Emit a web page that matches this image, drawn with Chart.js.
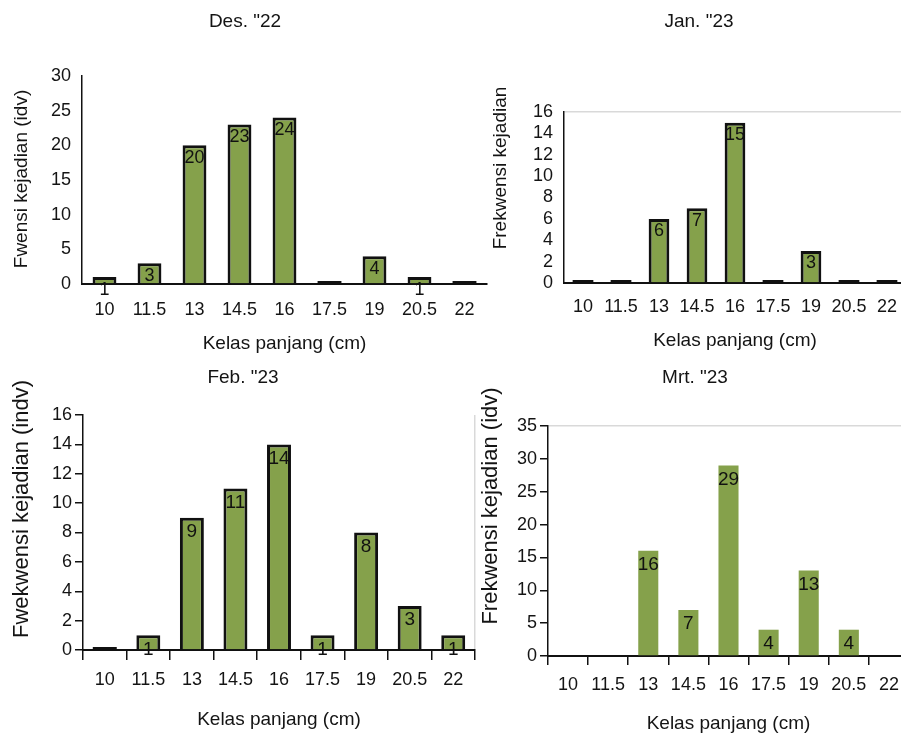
<!DOCTYPE html>
<html>
<head>
<meta charset="utf-8">
<script src="https://cdn.jsdelivr.net/npm/chart.js@4.4.1/dist/chart.umd.min.js"></script>
<style>
html,body{margin:0;padding:0;background:#fff;overflow:hidden;width:901px;height:736px}
canvas{position:absolute}
</style>
</head>
<body>
<canvas id="c1" width="490" height="360" style="left:0;top:0"></canvas>
<canvas id="c2" width="460" height="360" style="left:450px;top:0"></canvas>
<canvas id="c3" width="478" height="376" style="left:0;top:360px"></canvas>
<canvas id="c4" width="459" height="376" style="left:450px;top:360px"></canvas>
<script>
// length classes (cm)
const classes=["10","11.5","13","14.5","16","17.5","19","20.5","22"]

// frequency per month
const desValues=[1,3,20,23,24,0,4,1,0]
const janValues=[0,0,6,7,15,0,3,0,0]
const febValues=[0,1,9,11,14,1,8,3,1]
const mrtValues=[0,0,16,7,29,4,13,4,0]

const monthTitles=['Des. "22','Jan. "23','Feb. "23','Mrt. "23']
const yTitles=["Fwensi kejadian (idv)","Frekwensi kejadian","Fwekwensi kejadian (indv)","Frekwensi kejadian (idv)"]
const xTitle="Kelas panjang (cm)"
const yMax=[30,16,16,35]
const yStep=[5,2,2,5]

const GREEN="#85a14b"
const INK="#141414"
const SANS="'Liberation Sans', Arial, sans-serif"

const panelText={
  id:"panelText",
  afterDraw(chart,args,opts){
    const ctx=chart.ctx
    ctx.save()
    ctx.fillStyle=INK
    ctx.textAlign="center"
    ctx.textBaseline="middle"
    const t=opts.title
    ctx.font=t.font
    ctx.fillText(t.text,t.x,t.y)
    const y=opts.ytitle
    ctx.translate(y.x,y.y)
    ctx.rotate(-Math.PI/2)
    ctx.font=y.font
    ctx.fillText(y.text,0,0)
    ctx.restore()
  }
}

const barLabels={
  id:"barLabels",
  afterDatasetsDraw(chart,args,opts){
    const ctx=chart.ctx
    const data=chart.data.datasets[0].data
    ctx.save()
    ctx.font=opts.font
    ctx.fillStyle="#111"
    ctx.textAlign="center"
    ctx.textBaseline="middle"
    chart.getDatasetMeta(0).data.forEach((bar,i)=>{
      if(!data[i]) return
      ctx.fillText(String(data[i]),bar.x,bar.y+opts.offset)
    })
    ctx.restore()
  }
}

function makePanel(id,values,k,p){
  const max=yMax[k]
  new Chart(document.getElementById(id),{
    type:"bar",
    data:{
      labels:classes,
      datasets:[{
        data:values,
        backgroundColor:c=>(p.bar.border && c.raw===0)?"#111":GREEN,
        borderColor:"#111",
        borderWidth:c=>c.raw===0?0:p.bar.border,
        borderSkipped:"start",
        minBarLength:p.bar.border?3:0,
        barPercentage:p.bar.pct,
        categoryPercentage:1
      }]
    },
    options:{
      responsive:false,
      animation:false,
      layout:{padding:{top:p.top,right:p.right,bottom:0,left:0}},
      plugins:{
        legend:{display:false},
        tooltip:{enabled:false},
        panelText:{
          title:{text:monthTitles[k],x:p.title[0],y:p.title[1],font:"19px "+SANS},
          ytitle:{text:yTitles[k],x:p.ytitle[0],y:p.ytitle[1],font:p.ytitle[2]+"px "+SANS}
        },
        barLabels:{font:p.label.font,offset:p.label.offset}
      },
      scales:{
        x:{
          offset:true,
          grid:{
            display:p.xticks>0 || p.rightLine,
            drawOnChartArea:!!p.rightLine,
            drawTicks:p.xticks>0,
            tickLength:p.xticks,
            offset:true,
            color:c=>(p.rightLine && !c.tick)?"#d9d9d9":"rgba(0,0,0,0)",
            tickColor:"#111",
            lineWidth:1.5,
            tickWidth:1.5
          },
          border:{color:"#111",width:2},
          ticks:{font:{family:SANS,size:18},color:INK,padding:p.xpad,maxRotation:0,autoSkip:false},
          title:{display:true,text:xTitle,color:INK,font:{family:SANS,size:19},padding:{top:0,bottom:p.xtitlePad}},
          afterFit(s){s.height=p.xh}
        },
        y:{
          min:0,
          max:max,
          grid:{
            display:p.yticks>0 || p.topLine,
            drawOnChartArea:!!p.topLine,
            drawTicks:p.yticks>0,
            tickLength:p.yticks,
            color:c=>(p.topLine && c.tick && c.tick.value===max)?"#d9d9d9":"rgba(0,0,0,0)",
            tickColor:"#111",
            lineWidth:1.5,
            tickWidth:1.5
          },
          border:{color:"#111",width:1.5},
          ticks:{stepSize:yStep[k],autoSkip:false,font:{family:SANS,size:18},color:INK,padding:p.ypad},
          afterFit(s){s.width=p.yw}
        }
      }
    },
    plugins:[panelText,barLabels]
  })
}

makePanel("c1",desValues,0,{
  top:76,right:3,yw:82,xh:76,xticks:0,yticks:0,xpad:15,ypad:11,xtitlePad:4.6,
  bar:{pct:0.53,border:3},
  label:{font:"18px "+SANS,offset:12.5},
  title:[245,22],ytitle:[21.5,179,19]
})
makePanel("c2",janValues,1,{
  top:112,right:0,yw:114,xh:77,xticks:0,yticks:0,xpad:13,ypad:11,xtitlePad:7.6,topLine:true,
  bar:{pct:0.545,border:3},
  label:{font:"18px "+SANS,offset:12.5},
  title:[249,22],ytitle:[51,168,19]
})
makePanel("c3",febValues,2,{
  top:55,right:3,yw:83,xh:86,xticks:10,yticks:8,xpad:9.7,ypad:3,xtitlePad:4.9,rightLine:true,
  bar:{pct:0.55,border:3},
  label:{font:"19px "+SANS,offset:14},
  title:[243,18],ytitle:[22,149,22]
})
makePanel("c4",mrtValues,3,{
  top:66,right:0,yw:98,xh:80,xticks:9,yticks:8,xpad:9.7,ypad:3,xtitlePad:0.6,topLine:true,
  bar:{pct:0.5,border:0},
  label:{font:"19px "+SANS,offset:14},
  title:[245,18],ytitle:[41,146,22]
})
</script>
</body>
</html>
